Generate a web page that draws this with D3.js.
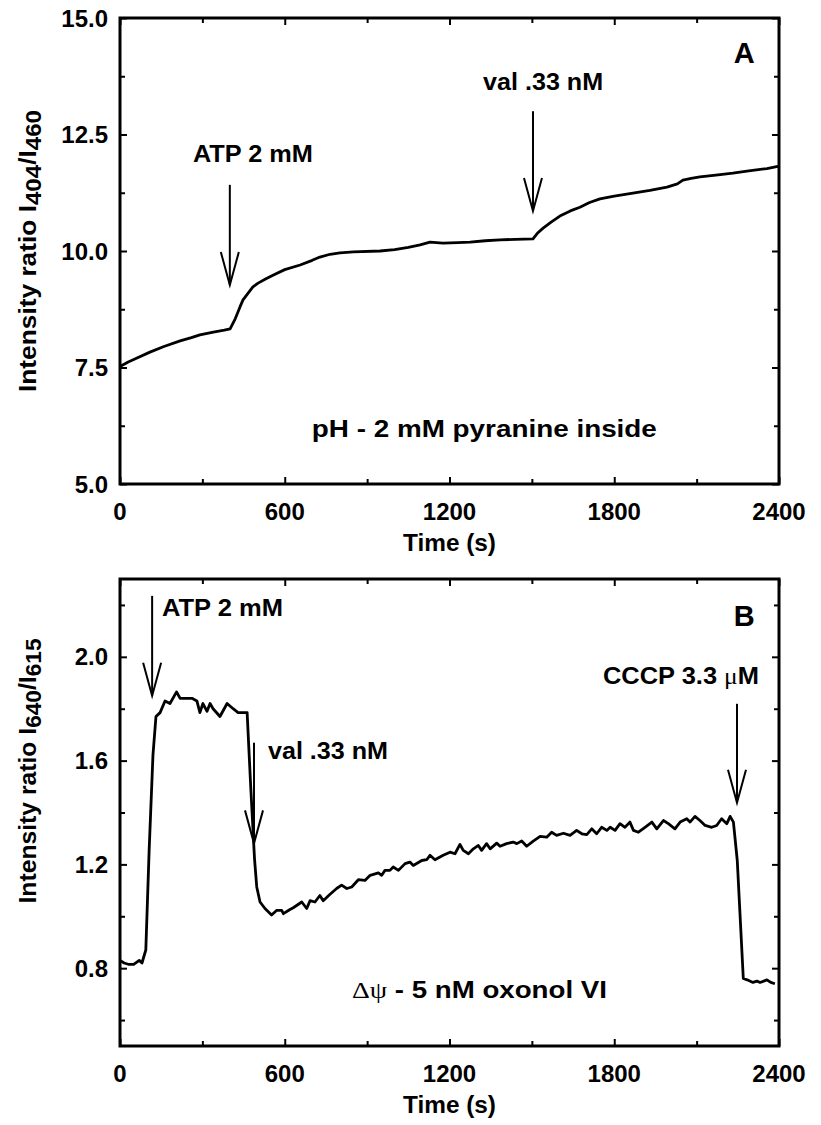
<!DOCTYPE html>
<html>
<head>
<meta charset="utf-8">
<script src="https://cdn.jsdelivr.net/npm/d3@7"></script>
<style>
  html, body { margin: 0; padding: 0; background: #fff; }
  svg text { font-family: "Liberation Sans", Arial, sans-serif; font-weight: bold; fill: #000; }
</style>
</head>
<body>
<svg id="chart" width="821" height="1125"></svg>
<script>
// ---------- Data ----------
const xTicks = [0, 600, 1200, 1800, 2400];
const xMinorTicks = [300, 900, 1500, 2100];

// Panel A: pH - pyranine
const timeA  = [0, 30, 60, 109, 160, 219, 260, 291, 340, 380, 401, 420, 437, 448, 466, 484, 503, 530, 557, 600, 656, 700, 728, 765, 801, 850, 947, 1000, 1050, 1093, 1129, 1176, 1230, 1275, 1330, 1384, 1440, 1504, 1520, 1541, 1570, 1602, 1640, 1675, 1710, 1748, 1800, 1868, 1930, 1992, 2030, 2050, 2080, 2112, 2170, 2232, 2290, 2356, 2400];
const ratioA = [7.52, 7.62, 7.70, 7.83, 7.95, 8.07, 8.14, 8.20, 8.26, 8.30, 8.33, 8.55, 8.80, 8.95, 9.09, 9.23, 9.31, 9.40, 9.48, 9.60, 9.70, 9.80, 9.87, 9.93, 9.96, 9.98, 10.00, 10.03, 10.08, 10.13, 10.19, 10.17, 10.18, 10.19, 10.22, 10.24, 10.25, 10.26, 10.38, 10.49, 10.62, 10.75, 10.86, 10.94, 11.04, 11.12, 11.18, 11.24, 11.30, 11.37, 11.44, 11.52, 11.56, 11.59, 11.63, 11.67, 11.72, 11.77, 11.82];

// Panel B: membrane potential - oxonol VI
const timeB  = [0, 15, 30, 50, 70, 80, 94, 106, 120, 131, 146, 164, 182, 206, 219, 244, 262, 280, 291, 302, 317, 328, 339, 364, 390, 412, 430, 463, 476, 490, 498, 510, 528, 552, 571, 589, 595, 619, 631, 662, 680, 692, 710, 728, 740, 765, 789, 807, 826, 844, 868, 892, 911, 941, 953, 965, 983, 995, 1014, 1038, 1056, 1068, 1099, 1117, 1129, 1147, 1177, 1202, 1220, 1238, 1250, 1269, 1287, 1305, 1317, 1335, 1348, 1372, 1384, 1408, 1432, 1445, 1463, 1481, 1505, 1530, 1554, 1572, 1590, 1615, 1639, 1663, 1682, 1700, 1718, 1736, 1754, 1773, 1785, 1803, 1821, 1839, 1857, 1870, 1888, 1912, 1937, 1955, 1979, 1997, 2021, 2040, 2064, 2076, 2094, 2112, 2131, 2155, 2173, 2191, 2210, 2222, 2234, 2248, 2270, 2284, 2305, 2320, 2331, 2356, 2370, 2385];
const ratioB = [0.83, 0.82, 0.815, 0.815, 0.83, 0.82, 0.87, 1.25, 1.62, 1.77, 1.785, 1.83, 1.82, 1.865, 1.84, 1.84, 1.84, 1.83, 1.785, 1.82, 1.79, 1.82, 1.80, 1.77, 1.82, 1.80, 1.785, 1.785, 1.50, 1.22, 1.113, 1.055, 1.03, 1.005, 1.023, 1.023, 1.01, 1.026, 1.033, 1.055, 1.03, 1.06, 1.055, 1.08, 1.06, 1.085, 1.107, 1.12, 1.107, 1.113, 1.141, 1.138, 1.158, 1.167, 1.158, 1.177, 1.177, 1.19, 1.177, 1.203, 1.209, 1.196, 1.215, 1.218, 1.235, 1.218, 1.235, 1.247, 1.241, 1.277, 1.254, 1.241, 1.26, 1.273, 1.254, 1.28, 1.26, 1.282, 1.27, 1.28, 1.286, 1.28, 1.29, 1.27, 1.29, 1.308, 1.305, 1.324, 1.312, 1.32, 1.312, 1.331, 1.318, 1.315, 1.337, 1.318, 1.343, 1.331, 1.343, 1.331, 1.357, 1.343, 1.363, 1.331, 1.324, 1.343, 1.363, 1.337, 1.369, 1.357, 1.337, 1.363, 1.376, 1.363, 1.385, 1.369, 1.35, 1.343, 1.35, 1.376, 1.357, 1.385, 1.363, 1.215, 0.76, 0.755, 0.745, 0.75, 0.745, 0.755, 0.745, 0.74];

const yTicksA = [5.0, 7.5, 10.0, 12.5, 15.0];
const yMinorA = [6.25, 8.75, 11.25, 13.75];
const yTicksB = [0.8, 1.2, 1.6, 2.0];
const yMinorB = [0.6, 1.0, 1.4, 1.8, 2.2];

// annotations: arrows [time, fromValue, toValue]; labels at [time, value]
const arrowsA = [[400, 11.42, 9.27], [1504, 13.0, 10.86]];
const labelsA = [
  {parts: [["ATP 2 mM", null]], t: 484, v: 11.91, anchor: "middle", w: 120},
  {parts: [["val .33 nM", null]], t: 1541, v: 13.45, anchor: "middle", w: 120},
  {parts: [["pH - 2 mM pyranine inside", null]], t: 1327, v: 6.01, anchor: "middle", w: 345},
  {parts: [["A", null]], t: 2273, v: 14.03, anchor: "middle", big: true}
];
const arrowsB = [[117, 2.235, 1.85], [488, 1.669, 1.281], [2247, 1.819, 1.438]];
const labelsB = [
  {parts: [["ATP 2 mM", null]], t: 153, v: 2.158, anchor: "start", w: 121},
  {parts: [["val .33 nM", null]], t: 539, v: 1.608, anchor: "start", w: 120},
  {parts: [["CCCP 3.3 ", null], ["\u03BC", "serif"], ["M", null]], t: 2043, v: 1.896, anchor: "middle", w: 156},
  {parts: [["\u0394\u03C8", "serif"], [" - 5 nM oxonol VI", null]], t: 1309, v: 0.685, anchor: "middle", w: 255},
  {parts: [["B", null]], t: 2273, v: 2.119, anchor: "middle", big: true}
];

const svg = d3.select("#chart");

function drawPanel(cfg) {
  const x = d3.scaleLinear().domain([0, 2400]).range([cfg.left, cfg.right]);
  const y = d3.scaleLinear().domain(cfg.yDomain).range([cfg.bottom, cfg.top]);
  const g = svg.append("g");

  const MAJ = 7, MIN = 5, FS = 24;
  const tickStyle = sel => sel.attr("stroke", "#000").attr("stroke-width", 2);

  const axes = [
    [d3.axisBottom(x).tickValues(xTicks).tickSize(-MAJ), `translate(0,${cfg.bottom})`],
    [d3.axisBottom(x).tickValues(xMinorTicks).tickSize(-MIN), `translate(0,${cfg.bottom})`],
    [d3.axisTop(x).tickValues(xTicks).tickSize(-MAJ), `translate(0,${cfg.top})`],
    [d3.axisTop(x).tickValues(xMinorTicks).tickSize(-MIN), `translate(0,${cfg.top})`],
    [d3.axisLeft(y).tickValues(cfg.yTicks).tickSize(-MAJ), `translate(${cfg.left},0)`],
    [d3.axisLeft(y).tickValues(cfg.yMinor).tickSize(-MIN), `translate(${cfg.left},0)`],
    [d3.axisRight(y).tickValues(cfg.yTicks).tickSize(-MAJ), `translate(${cfg.right},0)`],
    [d3.axisRight(y).tickValues(cfg.yMinor).tickSize(-MIN), `translate(${cfg.right},0)`]
  ];
  axes.forEach(([ax, tr]) => {
    const a = g.append("g").attr("transform", tr).call(ax.tickFormat(""));
    a.select(".domain").remove();
    a.selectAll(".tick line").call(tickStyle);
  });

  // frame
  g.append("rect")
    .attr("x", cfg.left).attr("y", cfg.top)
    .attr("width", cfg.right - cfg.left).attr("height", cfg.bottom - cfg.top)
    .attr("fill", "none").attr("stroke", "#000").attr("stroke-width", 3);

  // tick labels
  g.selectAll(".xl").data(xTicks).enter().append("text")
    .attr("x", d => x(d)).attr("y", cfg.bottom + 36)
    .attr("text-anchor", "middle").attr("font-size", FS)
    .text(d => d);
  g.selectAll(".yl").data(cfg.yTicks).enter().append("text")
    .attr("x", cfg.left - 12).attr("y", d => y(d) + 8.5)
    .attr("text-anchor", "end").attr("font-size", FS)
    .text(d => d3.format(".1f")(d));

  // axis titles
  g.append("text").attr("x", (cfg.left + cfg.right) / 2).attr("y", cfg.bottom + 67)
    .attr("text-anchor", "middle").attr("font-size", FS)
    .attr("textLength", 93).attr("lengthAdjust", "spacingAndGlyphs").text("Time (s)");

  const yl = g.append("text")
    .attr("transform", `translate(${cfg.yLabelX},${cfg.yLabelY}) rotate(-90)`)
    .attr("text-anchor", "middle").attr("font-size", FS)
    .attr("textLength", cfg.yLabelW).attr("lengthAdjust", "spacingAndGlyphs");
  yl.append("tspan").text("Intensity ratio I");
  yl.append("tspan").attr("dy", 5).attr("font-size", 22).text(cfg.sub1);
  yl.append("tspan").attr("dy", -5).text("/I");
  yl.append("tspan").attr("dy", 5).attr("font-size", 22).text(cfg.sub2);

  // data line
  const line = d3.line().x(d => x(d[0])).y(d => y(d[1]));
  const pts = cfg.time.map((t, i) => [t, cfg.ratio[i]]);
  g.append("path").datum(pts).attr("d", line)
    .attr("fill", "none").attr("stroke", "#000").attr("stroke-width", 2.8)
    .attr("stroke-linejoin", "round");

  // arrows
  cfg.arrows.forEach(([t, v0, v1]) => {
    const ax = x(t), y0 = y(v0), y1 = y(v1);
    g.append("line").attr("x1", ax).attr("x2", ax).attr("y1", y0).attr("y2", y1)
      .attr("stroke", "#000").attr("stroke-width", 2);
    g.append("path")
      .attr("d", `M${ax - 9},${y1 - 33} L${ax},${y1} L${ax + 9},${y1 - 33}`)
      .attr("fill", "none").attr("stroke", "#000").attr("stroke-width", 2);
  });

  // labels
  cfg.labels.forEach(l => {
    const tx = g.append("text").attr("x", x(l.t)).attr("y", y(l.v))
      .attr("text-anchor", l.anchor).attr("font-size", l.big ? 29 : 23);
    if (l.w) tx.attr("textLength", l.w).attr("lengthAdjust", "spacingAndGlyphs");
    l.parts.forEach(([s, fam]) => {
      const ts = tx.append("tspan").text(s);
      if (fam) ts.style("font-family", "'Liberation Serif', serif").style("font-weight", "normal");
    });
  });
}

drawPanel({
  left: 120, right: 779, top: 18, bottom: 484,
  yDomain: [5, 15], yTicks: yTicksA, yMinor: yMinorA,
  time: timeA, ratio: ratioA, arrows: arrowsA, labels: labelsA,
  sub1: "404", sub2: "460", yLabelX: 36, yLabelY: 251, yLabelW: 282
});
drawPanel({
  left: 120, right: 779, top: 579, bottom: 1046,
  yDomain: [0.5, 2.3], yTicks: yTicksB, yMinor: yMinorB,
  time: timeB, ratio: ratioB, arrows: arrowsB, labels: labelsB,
  sub1: "640", sub2: "615", yLabelX: 36, yLabelY: 771, yLabelW: 265
});
</script>
</body>
</html>
